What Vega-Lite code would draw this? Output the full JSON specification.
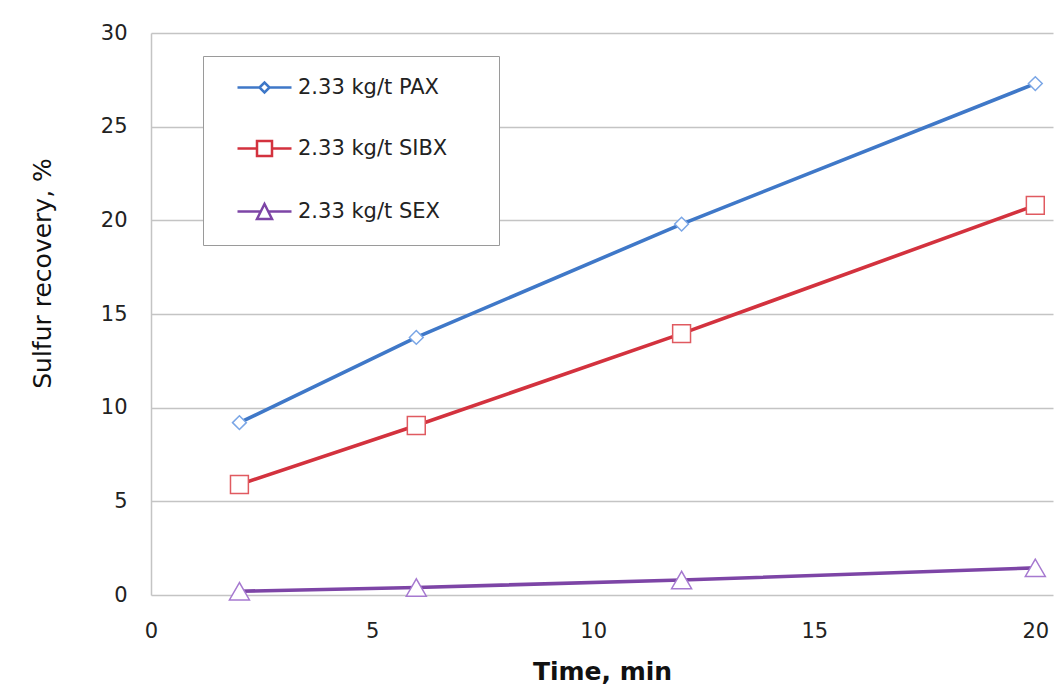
{
  "$schema": "https://vega.github.io/schema/vega-lite/v6.json",
  "width": 902,
  "height": 562,
  "autosize": "none",
  "padding": {"left": 151, "top": 33, "right": 7, "bottom": 96},
  "background": "white",
  "config": {
    "view": {"stroke": null},
    "font": "DejaVu Sans"
  },
  "data": {
    "values": [
      {"series": "2.33 kg/t PAX", "time": 2, "recovery": 9.2},
      {"series": "2.33 kg/t PAX", "time": 6, "recovery": 13.75},
      {"series": "2.33 kg/t PAX", "time": 12, "recovery": 19.8},
      {"series": "2.33 kg/t PAX", "time": 20, "recovery": 27.3},
      {"series": "2.33 kg/t SIBX", "time": 2, "recovery": 5.9},
      {"series": "2.33 kg/t SIBX", "time": 6, "recovery": 9.05},
      {"series": "2.33 kg/t SIBX", "time": 12, "recovery": 13.95},
      {"series": "2.33 kg/t SIBX", "time": 20, "recovery": 20.8},
      {"series": "2.33 kg/t SEX", "time": 2, "recovery": 0.2},
      {"series": "2.33 kg/t SEX", "time": 6, "recovery": 0.4},
      {"series": "2.33 kg/t SEX", "time": 12, "recovery": 0.8},
      {"series": "2.33 kg/t SEX", "time": 20, "recovery": 1.45}
    ]
  },
  "encoding": {
    "x": {
      "field": "time", "type": "quantitative",
      "scale": {"domain": [0, 20.4], "nice": false},
      "axis": {
        "values": [0, 5, 10, 15, 20],
        "title": "Time, min",
        "titleFont": "DejaVu Sans", "titleFontSize": 25, "titleFontWeight": "bold", "titleColor": "#111",
        "titlePadding": 18,
        "labelFont": "DejaVu Sans", "labelFontSize": 21, "labelColor": "#222", "labelPadding": 25,
        "ticks": false, "domain": false, "grid": false, "labelFlush": false
      }
    },
    "y": {
      "field": "recovery", "type": "quantitative",
      "scale": {"domain": [0, 30], "nice": false},
      "axis": {
        "values": [0, 5, 10, 15, 20, 25, 30],
        "title": "Sulfur recovery, %",
        "titleFont": "DejaVu Sans", "titleFontSize": 25, "titleFontWeight": "normal", "titleColor": "#111",
        "titleX": -101, "titleY": 240, "titleBaseline": "alphabetic", "titleAlign": "center", "titleAngle": -90,
        "labelFont": "DejaVu Sans", "labelFontSize": 21, "labelColor": "#222", "labelPadding": 24,
        "ticks": false, "domain": true, "domainColor": "#c4c4c4", "domainWidth": 1.5,
        "grid": true, "gridColor": "#c4c4c4", "gridWidth": 1.5
      }
    }
  },
  "layer": [
    {
      "mark": {"type": "line", "strokeWidth": 3.6},
      "encoding": {
        "color": {
          "field": "series", "type": "nominal",
          "scale": {
            "domain": ["2.33 kg/t PAX", "2.33 kg/t SIBX", "2.33 kg/t SEX"],
            "range": ["#3f78c8", "#d3323e", "#7d45a6"]
          },
          "legend": {
            "title": null,
            "orient": "none",
            "legendX": 52,
            "legendY": 23,
            "padding": 21,
            "fillColor": "white",
            "strokeColor": "#9a9a9a",
            "symbolSize": 64,
            "symbolStrokeWidth": 2.5,
            "labelFont": "DejaVu Sans",
            "labelFontSize": 21,
            "labelColor": "#222",
            "labelOffset": 53,
            "labelLimit": 400,
            "rowPadding": 38,
            "labelExpr": "datum.label + '\u2800\u2800'",
            "encode": {
              "symbols": {
                "update": {
                  "shape": {"signal": "datum.value === '2.33 kg/t PAX' ? 'M0.75,0L6.25,0M8.75,0L14.25,0M6.25,0L7.5,-1.25L8.75,0L7.5,1.25Z' : datum.value === '2.33 kg/t SIBX' ? 'M0.75,0L5.625,0M9.375,0L14.25,0M5.625,-1.875L9.375,-1.875L9.375,1.875L5.625,1.875Z' : 'M0.75,0L6.5625,0M8.4375,0L14.25,0M7.5,-1.875L9.375,1.875L5.625,1.875Z'"},
                  "fill": {"value": "white"},
                  "fillOpacity": {"value": 1},
                  "strokeWidth": {"value": 2.5}
                }
              }
            }
          }
        }
      }
    },
    {
      "transform": [{"filter": "datum.series === '2.33 kg/t PAX'"}],
      "mark": {"type": "point", "shape": "diamond", "size": 190, "filled": true, "fill": "white", "stroke": "#7aa6e6", "opacity": 1, "strokeWidth": 1.5}
    },
    {
      "transform": [{"filter": "datum.series === '2.33 kg/t SIBX'"}],
      "mark": {"type": "point", "shape": "square", "size": 320, "filled": true, "fill": "white", "stroke": "#e05a60", "opacity": 1, "strokeWidth": 1.5}
    },
    {
      "transform": [{"filter": "datum.series === '2.33 kg/t SEX'"}],
      "mark": {"type": "point", "shape": "triangle-up", "size": 400, "filled": true, "fill": "white", "stroke": "#a679d0", "opacity": 1, "strokeWidth": 1.5}
    }
  ]
}
